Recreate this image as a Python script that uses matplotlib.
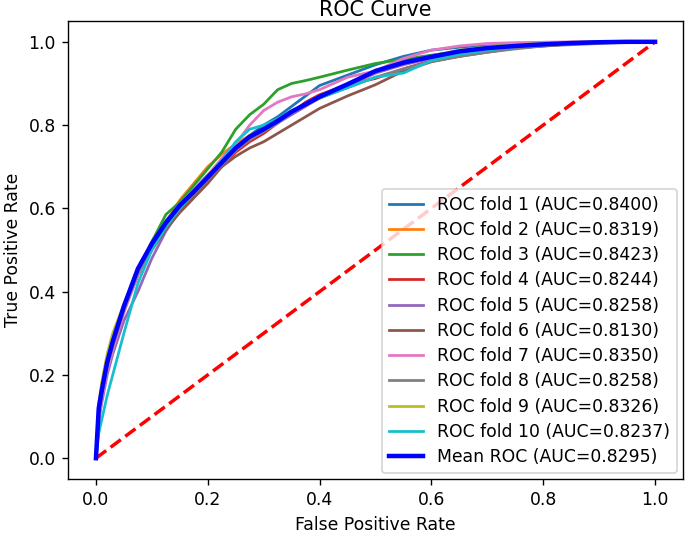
import matplotlib
matplotlib.use("Agg")
import matplotlib.pyplot as plt

fpr_grid = [0, 0.005, 0.01, 0.02, 0.03, 0.05, 0.075, 0.1, 0.125, 0.15, 0.175, 0.2,
            0.225, 0.25, 0.275, 0.3, 0.325, 0.35, 0.375, 0.4, 0.45, 0.5, 0.55, 0.6,
            0.65, 0.7, 0.75, 0.8, 0.85, 0.9, 0.95, 1.0]

fold_aucs = [0.8400, 0.8319, 0.8423, 0.8244, 0.8258, 0.8130, 0.8350, 0.8258, 0.8326, 0.8237]

tpr_fold1 = [0, .10, .15, .22, .27, .36, .45, .52, .57, .61, .645, .68, .715, .745, .775, .80,
             .82, .845, .87, .895, .92, .945, .965, .98, .987, .99, .993, .996, .998, .999, 1, 1]
tpr_fold2 = [0, .11, .16, .23, .28, .36, .45, .51, .565, .62, .66, .70, .73, .755, .775, .79,
             .81, .83, .85, .865, .895, .925, .948, .962, .975, .985, .99, .995, .998, 1, 1, 1]
tpr_fold3 = [0, .10, .15, .22, .27, .36, .45, .52, .585, .615, .655, .695, .735, .79, .825, .85,
             .885, .90, .907, .915, .932, .948, .958, .968, .977, .986, .991, .995, .998, 1, 1, 1]
tpr_fold4 = [0, .10, .15, .22, .27, .355, .44, .505, .56, .60, .635, .67, .70, .735, .76, .78,
             .805, .83, .855, .873, .897, .912, .935, .955, .97, .98, .986, .99, .995, .998, 1, 1]
tpr_fold5 = [0, .09, .13, .20, .25, .33, .40, .48, .545, .595, .63, .665, .70, .74, .765, .785,
             .805, .825, .845, .865, .895, .925, .945, .96, .975, .985, .99, .995, .998, 1, 1, 1]
tpr_fold6 = [0, .10, .15, .22, .27, .36, .44, .50, .55, .59, .625, .66, .70, .725, .745, .76,
             .78, .80, .82, .84, .87, .897, .93, .952, .965, .975, .985, .99, .995, .998, 1, 1]
tpr_fold7 = [0, .09, .14, .21, .26, .35, .44, .51, .565, .61, .645, .68, .72, .755, .80, .835,
             .855, .868, .875, .885, .915, .93, .96, .98, .99, .996, .998, .999, 1, 1, 1, 1]
tpr_fold8 = [0, .10, .15, .22, .27, .355, .445, .505, .555, .60, .635, .67, .705, .74, .765, .785,
             .805, .83, .85, .865, .89, .915, .935, .953, .965, .975, .983, .99, .993, .996, .999, 1]
tpr_fold9 = [0, .13, .18, .25, .30, .37, .455, .515, .565, .605, .64, .675, .71, .745, .77, .79,
             .81, .83, .85, .87, .90, .93, .95, .966, .98, .988, .993, .996, .998, 1, 1, 1]
tpr_fold10 = [0, .06, .09, .15, .20, .30, .42, .50, .555, .60, .64, .675, .715, .76, .79, .80,
              .815, .835, .85, .865, .89, .915, .925, .955, .97, .98, .988, .993, .997, .999, 1, 1]

fold_tprs = [tpr_fold1, tpr_fold2, tpr_fold3, tpr_fold4, tpr_fold5,
             tpr_fold6, tpr_fold7, tpr_fold8, tpr_fold9, tpr_fold10]

mean_auc = 0.8295
tpr_mean = [0, .12, .16, .23, .28, .365, .455, .515, .565, .607, .640, .675, .710, .745, .772, .790,
            .810, .832, .850, .868, .898, .930, .950, .964, .977, .985, .990, .994, .997, .999, 1.0, 1.0]

fig = plt.figure(figsize=(685 / 124, 536 / 124), dpi=124)
ax = fig.add_axes([68 / 685, 57 / 536, 615 / 685, 458 / 536])

for i, tpr in enumerate(fold_tprs):
    ax.plot(fpr_grid, tpr, lw=1.6, label=f"ROC fold {i + 1} (AUC={fold_aucs[i]:.4f})")

ax.plot([0, 1], [0, 1], linestyle="--", color="r", lw=2)
ax.plot(fpr_grid, tpr_mean, color="b", lw=2.6, label=f"Mean ROC (AUC={mean_auc:.4f})")

ax.set_xlabel("False Positive Rate")
ax.set_ylabel("True Positive Rate")
ax.set_title("ROC Curve", pad=3)
ax.legend(loc="lower right", labelspacing=0.42, borderaxespad=0.35)

fig.savefig("out.png", dpi=124)
